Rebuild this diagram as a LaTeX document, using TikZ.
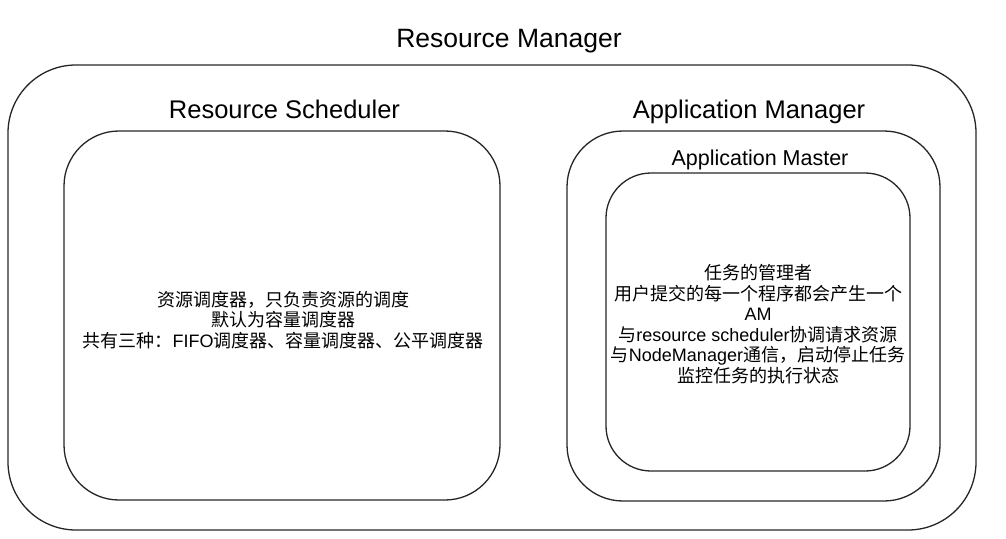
\documentclass[tikz,border=0pt]{standalone}
\usepackage{fontspec}
\setmainfont{Liberation Sans}
\newfontfamily\cjk{Noto Sans CJK SC}
\usetikzlibrary{positioning}
\newcommand{\zh}[1]{{\cjk #1}}

\tikzset{
  frame/.style={draw=black!85, line width=1.3pt, inner sep=0pt},
  heading/.style={anchor=base, inner sep=0pt, font=\fontsize{25.5}{30}\selectfont},
  body/.style={align=center, inner sep=0pt, font=\fontsize{18}{20.5}\selectfont}
}

\begin{document}
\begin{tikzpicture}[x=1pt, y=-1pt]
\useasboundingbox (0,0) rectangle (1006,538);

\node[frame, minimum width=968, minimum height=465, rounded corners=68] (rm) at (492,297.5) {};
\node[frame, minimum width=436, minimum height=369, rounded corners=55] (rs) at (282,315.5) {};
\node[frame, minimum width=373, minimum height=370, rounded corners=56] (am) at (753.5,316) {};
\node[frame, minimum width=304, minimum height=298, rounded corners=45] (ams) at (758,322) {};

\node[heading, font=\fontsize{26.5}{30}\selectfont] (rmtitle) at (509,47) {Resource Manager};
\node[heading] (rstitle) at (284.5,118) {Resource Scheduler};
\node[heading] (amtitle) at (749,118) {Application Manager};
\node[heading, font=\fontsize{21.5}{25}\selectfont] (amstitle) at (760,165.5) {Application Master};

\node[body] (rstext) at (283,320) {\zh{资源调度器，只负责资源的调度}\\
  \zh{默认为容量调度器}\\
  \zh{共有三种：}FIFO\zh{调度器、容量调度器、公平调度器}};
\node[body] (amstext) at (758,324) {\zh{任务的管理者}\\
  \zh{用户提交的每一个程序都会产生一个}\\
  AM\\
  \zh{与}resource scheduler\zh{协调请求资源}\\
  \zh{与}NodeManager\zh{通信，启动停止任务}\\
  \zh{监控任务的执行状态}};
\end{tikzpicture}
\end{document}
